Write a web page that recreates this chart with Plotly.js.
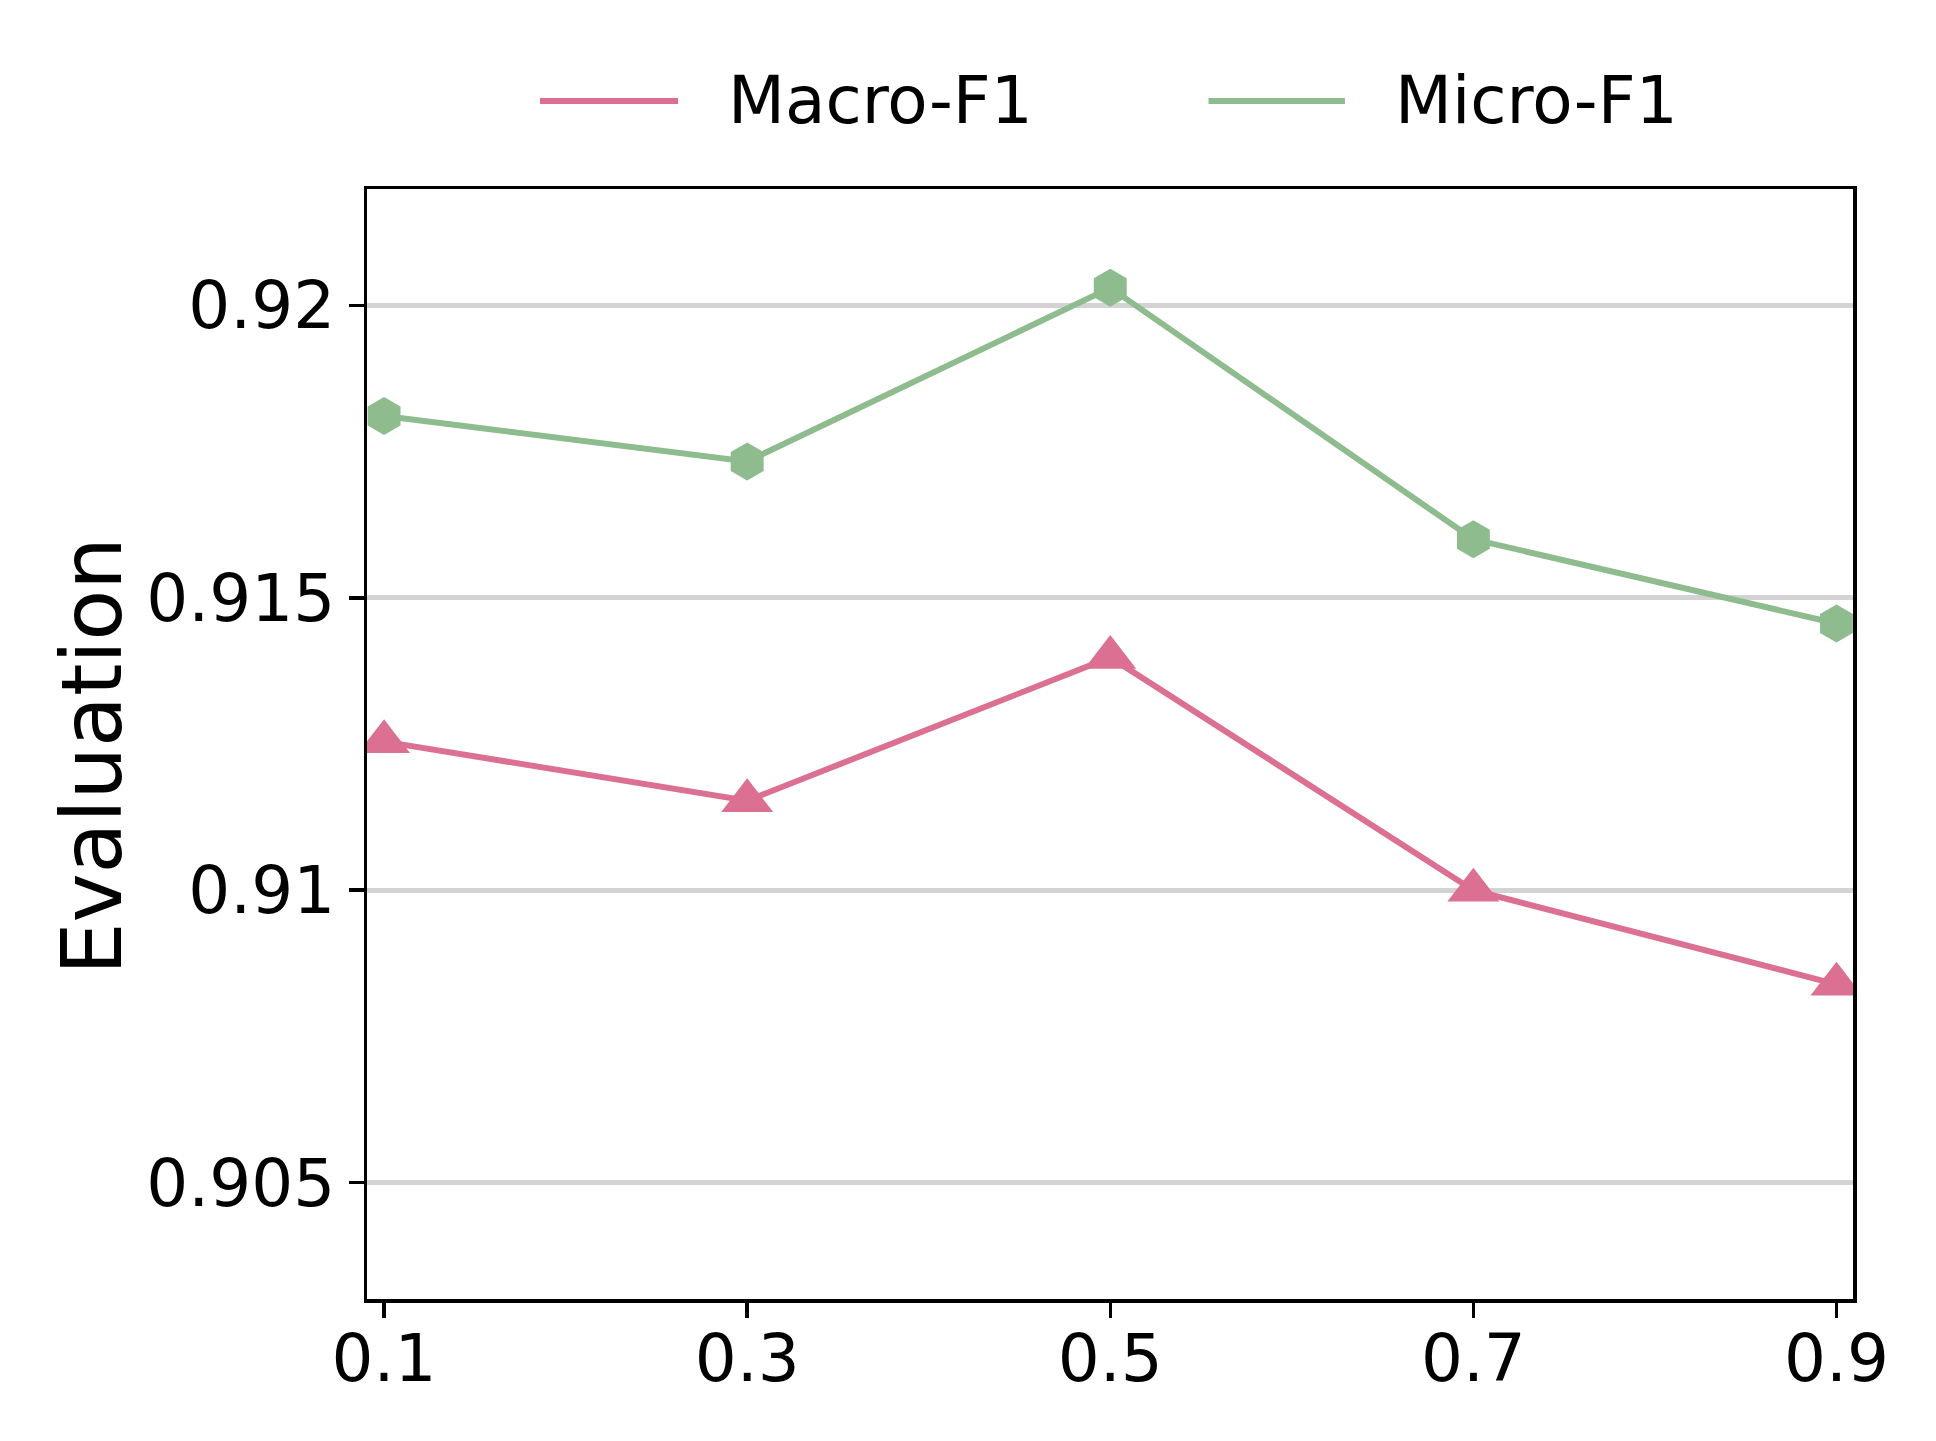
<!DOCTYPE html>
<html>
<head>
<meta charset="utf-8">
<script src="https://cdn.plot.ly/plotly-3.0.1.min.js"></script>
<style>
html, body { margin: 0; padding: 0; background: #ffffff; }
#chart { width: 1936px; height: 1441px; }
</style>
</head>
<body>
<div id="chart"></div>
<script>
// ---- data ----
const ratios = [0.1, 0.3, 0.5, 0.7, 0.9];
const macroF1 = [0.91254, 0.91153, 0.91398, 0.91000, 0.90839];
const microF1 = [0.91811, 0.91733, 0.92030, 0.91600, 0.91456];
const seriesNames = ['Macro-F1', 'Micro-F1'];
const yTicks = [0.905, 0.91, 0.915, 0.92];
const yTickLabels = ['0.905', '0.91', '0.915', '0.92'];
const xTickLabels = ['0.1', '0.3', '0.5', '0.7', '0.9'];
const yAxisTitle = 'Evaluation';

// ---- styles ----
const colors = ['#DB7093', '#8FBC8F'];
const FONT = 'DejaVu Sans, Liberation Sans, sans-serif';

const traces = [
  {
    x: ratios, y: macroF1, name: seriesNames[0], type: 'scatter', mode: 'lines+markers',
    line: {color: colors[0], width: 6},
    marker: {symbol: 'triangle-up', size: 45, color: colors[0]},
    showlegend: false
  },
  {
    x: ratios, y: microF1, name: seriesNames[1], type: 'scatter', mode: 'lines+markers',
    line: {color: colors[1], width: 6},
    marker: {symbol: 'hexagon', size: 38, color: colors[1]},
    showlegend: false
  }
];

// custom legend (long line samples like the reference)
const legendY = 1.0793;
const legendLines = [[0.1164, 0.2093], [0.5663, 0.6581]];
const legendTextX = [0.2416, 0.6906];
const shapes = legendLines.map((seg, i) => ({
  type: 'line', xref: 'paper', yref: 'paper',
  x0: seg[0], x1: seg[1], y0: legendY, y1: legendY,
  line: {color: colors[i], width: 6}
}));
const annotations = seriesNames.map((name, i) => ({
  text: name, xref: 'paper', yref: 'paper', x: legendTextX[i], y: legendY,
  xanchor: 'left', yanchor: 'middle', showarrow: false,
  font: {family: FONT, size: 66, color: '#000000'}
}));
annotations.push({
  text: yAxisTitle, xref: 'paper', yref: 'paper', x: 0, y: 0.5,
  xshift: -275, yshift: -12, textangle: -90,
  xanchor: 'center', yanchor: 'middle', showarrow: false,
  font: {family: FONT, size: 83, color: '#000000'}
});

const layout = {
  width: 1936, height: 1441,
  margin: {l: 367, r: 83, t: 189, b: 142, pad: 0},
  paper_bgcolor: '#ffffff', plot_bgcolor: '#ffffff',
  font: {family: FONT, size: 66, color: '#000000'},
  showlegend: false,
  xaxis: {
    range: [0.0906, 0.9091],
    tickmode: 'array', tickvals: ratios, ticktext: xTickLabels,
    ticks: 'outside', ticklen: 15, tickwidth: 3.5, tickcolor: '#000000',
    ticklabelstandoff: -16,
    showline: true, linecolor: '#000000', linewidth: 3.5, mirror: true,
    showgrid: false, zeroline: false,
    tickfont: {family: FONT, size: 66, color: '#000000'}
  },
  yaxis: {
    range: [0.90301, 0.92199],
    tickmode: 'array', tickvals: yTicks, ticktext: yTickLabels,
    ticks: 'outside', ticklen: 15, tickwidth: 3.5, tickcolor: '#000000',
    showline: true, linecolor: '#000000', linewidth: 3.5, mirror: true,
    showgrid: true, gridcolor: '#D3D3D3', gridwidth: 5, zeroline: false,
    tickfont: {family: FONT, size: 66, color: '#000000'}
  },
  shapes: shapes,
  annotations: annotations
};

Plotly.newPlot('chart', traces, layout, {staticPlot: true, displayModeBar: false});
</script>
</body>
</html>
